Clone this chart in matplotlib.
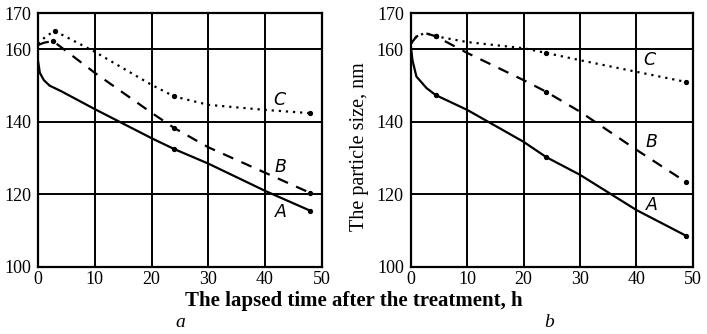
import matplotlib
matplotlib.use("Agg")
import matplotlib.pyplot as plt

# ---- data: panel a ----
a_x_A = [0, 0.3, 1, 2, 4, 10, 20, 24, 30, 40, 48]
a_y_A = [156.5, 153.5, 151.5, 150, 148.5, 143.5, 135.5, 132.5, 128.5, 121, 115.5]
a_x_B = [0, 1, 2.6, 10, 20, 24, 30, 40, 48]
a_y_B = [161.2, 161.8, 162.3, 153.5, 142.5, 138.3, 133, 126, 120.4]
a_x_C = [0, 1.5, 3, 10, 20, 24, 30, 40, 48]
a_y_C = [161.5, 163.8, 165, 159.3, 150.2, 147, 144.7, 143.3, 142.4]

# ---- data: panel b ----
b_x_A = [0, 0.3, 1, 2.8, 4.4, 10, 20, 24, 30, 40, 48.8]
b_y_A = [161, 157, 152.5, 149.3, 147.4, 143.3, 134.5, 130.3, 125.4, 115.7, 108.6]
b_x_B = [0, 1, 2.5, 4.4, 10, 20, 24, 30, 40, 48.8]
b_y_B = [161.5, 163.5, 164.5, 163.6, 159, 151.5, 148.3, 142.8, 132.3, 123.4]
b_x_C = [0, 1, 2.5, 4.4, 10, 20, 24, 30, 40, 48.8]
b_y_C = [161.5, 163.5, 164.5, 163.6, 162, 160.3, 159, 157, 153.8, 151]

x_ticks = [0, 10, 20, 30, 40, 50]
y_ticks = [100, 120, 140, 160, 170]
curve_labels = ["A", "B", "C"]

serif = "Liberation Serif"

fig = plt.figure(figsize=(7.07, 3.34), dpi=100)
ax1 = fig.add_axes([0.054, 0.2006, 0.401, 0.7604])
ax2 = fig.add_axes([0.581, 0.2006, 0.399, 0.7604])

def style(ax):
    ax.set_xlim(0, 50)
    ax.set_ylim(100, 170)
    ax.set_xticks(x_ticks)
    ax.set_yticks(y_ticks)
    ax.grid(True, color="black", linewidth=1.4)
    ax.set_axisbelow(True)
    for s in ax.spines.values():
        s.set_linewidth(1.6)
    ax.tick_params(axis="y", length=0, labelsize=13, pad=5)
    ax.tick_params(axis="x", length=0, labelsize=13, pad=3)
    for lab in ax.get_xticklabels() + ax.get_yticklabels():
        lab.set_family(serif)

def draw(ax, xs, ys, ls, marks):
    ax.plot(xs, ys, color="black", linestyle=ls, linewidth=1.6,
            marker="o", markersize=2.8, markevery=marks, zorder=3)

style(ax1)
style(ax2)

draw(ax1, a_x_A, a_y_A, "-", [7, 10])
draw(ax1, a_x_B, a_y_B, (0, (5, 4)), [2, 5, 8])
draw(ax1, a_x_C, a_y_C, (0, (1, 2.2)), [2, 5, 8])

draw(ax2, b_x_A, b_y_A, "-", [4, 7, 10])
draw(ax2, b_x_B, b_y_B, (0, (5, 4)), [3, 6, 9])
draw(ax2, b_x_C, b_y_C, (0, (1, 2.2)), [3, 6, 9])

lab_font = dict(family="DejaVu Sans", style="italic", fontsize=12.5, ha="center", va="center")
ax1.text(42.8, 115.2, curve_labels[0], **lab_font)
ax1.text(42.8, 127.5, curve_labels[1], **lab_font)
ax1.text(42.5, 146, curve_labels[2], **lab_font)
ax2.text(42.8, 117, curve_labels[0], **lab_font)
ax2.text(42.6, 134.5, curve_labels[1], **lab_font)
ax2.text(42.3, 157, curve_labels[2], **lab_font)

fig.text(0.50, 0.098, "The lapsed time after the treatment, h", family=serif,
         fontweight="bold", fontsize=15, ha="center", va="center")
fig.text(0.255, 0.034, "a", family=serif, style="italic", fontsize=14, ha="center", va="center")
fig.text(0.777, 0.034, "b", family=serif, style="italic", fontsize=14, ha="center", va="center")
fig.text(0.509, 0.56, "The particle size, nm", family=serif, fontsize=14.5,
         rotation=90, ha="center", va="center")

fig.savefig("out.png", dpi=100, facecolor="white")
